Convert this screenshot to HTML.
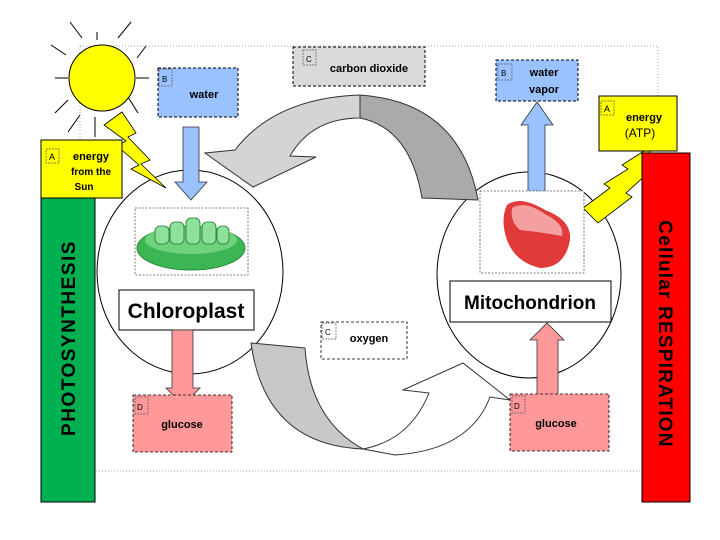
<!DOCTYPE html>
<html><head><meta charset="utf-8"><style>
html,body{margin:0;padding:0;background:#fff;}
svg{display:block;}
text{font-family:"Liberation Sans",sans-serif;}
</style></head><body>
<svg width="720" height="540" viewBox="0 0 720 540" xmlns="http://www.w3.org/2000/svg">
<path d="M80,46 H658 V96 M80,46 V140 M96,471 H642" fill="none" stroke="#9ab" stroke-width="1" stroke-dasharray="1,2"/>
<g stroke="#000" stroke-width="1">
<line x1="55" y1="78" x2="68" y2="78"/><line x1="136" y1="78" x2="149" y2="78"/>
<line x1="97" y1="32" x2="97" y2="40"/><line x1="95" y1="117" x2="95" y2="137"/>
<line x1="70" y1="22" x2="82" y2="38"/><line x1="118" y1="38" x2="131" y2="22"/>
<line x1="51" y1="45" x2="66" y2="55"/><line x1="137" y1="58" x2="146" y2="46"/>
<line x1="55" y1="113" x2="68" y2="100"/><line x1="128" y1="97" x2="138" y2="113"/>
<line x1="68" y1="132" x2="80" y2="115"/>
</g>
<circle cx="102" cy="78" r="33" fill="#ffff00" stroke="#000" stroke-width="1"/>
<ellipse cx="190" cy="272" rx="93" ry="102" fill="#fff" stroke="#000" stroke-width="1"/>
<ellipse cx="529" cy="275" rx="92" ry="103" fill="#fff" stroke="#000" stroke-width="1"/>
<path d="M360,95 Q460,102 478,200 L422,198 Q410,128 360,118 Z" fill="#aaa" stroke="#333" stroke-width="1"/>
<path d="M360,95 Q275,98 235,150 L205,153 L253,187 L316,157 L290,156 Q312,118 360,118 Z" fill="#d4d4d4" stroke="#333" stroke-width="1"/>
<path d="M395,455 Q470,450 490,397 L510,400 L463,363 L403,390 L429,393 Q410,440 363,449 Z" fill="#fff" stroke="#333" stroke-width="1"/>
<path d="M251,343 L305,348 Q310,420 363,449 Q265,445 251,343 Z" fill="#c8c8c8" stroke="#333" stroke-width="1"/>
<polygon points="104,125 122,112 136,133 128,137 150,160 141,164 166,188 131,169 139,165 117,146 126,141" fill="#ffff00" stroke="#000" stroke-width="0.8"/>
<polygon points="583,208 610,188 604,184 628,169 622,165 652,146 643,170 648,173 626,193 632,197 598,223" fill="#ffff00" stroke="#000" stroke-width="0.8"/>
<rect x="41" y="198" width="54" height="304" fill="#00b050" stroke="#000" stroke-width="1"/>
<text transform="translate(75,338) rotate(-90)" text-anchor="middle" font-size="19" font-weight="bold" letter-spacing="1.5" fill="#000">PHOTOSYNTHESIS</text>
<rect x="642" y="153" width="48" height="349" fill="#ff0000" stroke="#000" stroke-width="1"/>
<text transform="translate(659,334) rotate(90)" text-anchor="middle" font-size="19" font-weight="bold" letter-spacing="1.2" fill="#000">Cellular RESPIRATION</text>
<rect x="41" y="140" width="81" height="58" fill="#ffff00" stroke="#000" stroke-width="1"/>
<rect x="46" y="149" width="13" height="14" fill="none" stroke="#555" stroke-dasharray="2,1" stroke-width="0.7"/>
<text x="49" y="160" font-size="9">A</text>
<text x="91" y="160" font-size="11" font-weight="bold" text-anchor="middle">energy</text>
<text x="91" y="175" font-size="10" font-weight="bold" text-anchor="middle">from the</text>
<text x="84" y="190" font-size="10" font-weight="bold" text-anchor="middle">Sun</text>
<rect x="599" y="96" width="78" height="55" fill="#ffff00" stroke="#000" stroke-width="1"/>
<rect x="601" y="101" width="13" height="14" fill="none" stroke="#555" stroke-dasharray="2,1" stroke-width="0.7"/>
<text x="604" y="112" font-size="9">A</text>
<text x="644" y="121" font-size="11" font-weight="bold" text-anchor="middle">energy</text>
<text x="640" y="137" font-size="12" text-anchor="middle">(ATP)</text>
<rect x="158" y="68" width="80" height="49" fill="#99c2ff" stroke="#000" stroke-dasharray="3,2" stroke-width="1"/>
<rect x="159" y="69" width="13" height="17" fill="none" stroke="#556" stroke-dasharray="2,1" stroke-width="0.7"/>
<text x="162" y="82" font-size="8">B</text>
<text x="204" y="98" font-size="11" font-weight="bold" text-anchor="middle">water</text>
<rect x="293" y="47" width="132" height="39" fill="#d9d9d9" stroke="#000" stroke-dasharray="3,2" stroke-width="1"/>
<rect x="303" y="50" width="13" height="15" fill="none" stroke="#556" stroke-dasharray="2,1" stroke-width="0.7"/>
<text x="306" y="62" font-size="8">C</text>
<text x="369" y="72" font-size="11" font-weight="bold" text-anchor="middle">carbon dioxide</text>
<rect x="496" y="60" width="82" height="41" fill="#99c2ff" stroke="#000" stroke-dasharray="3,2" stroke-width="1"/>
<rect x="498" y="64" width="14" height="16" fill="none" stroke="#556" stroke-dasharray="2,1" stroke-width="0.7"/>
<text x="501" y="76" font-size="8">B</text>
<text x="544" y="76" font-size="11" font-weight="bold" text-anchor="middle">water</text>
<text x="544" y="93" font-size="11" font-weight="bold" text-anchor="middle">vapor</text>
<polygon points="183,127 199,127 199,182 207,182 191,200 175,182 183,182" fill="#99c2ff" stroke="#333" stroke-width="0.8"/>
<polygon points="528,192 545,192 545,125 553,125 537,102 521,125 528,125" fill="#99c2ff" stroke="#333" stroke-width="0.8"/>
<rect x="135" y="208" width="113" height="67" fill="#fff" stroke="#556" stroke-dasharray="2,1.5" stroke-width="0.8"/>
<ellipse cx="191" cy="248" rx="54" ry="22" fill="#3cb554" stroke="#2a8a3a" stroke-width="1"/>
<ellipse cx="191" cy="240" rx="46" ry="14" fill="#6fd37e"/>
<g fill="#8fe09a" stroke="#1f7a2f" stroke-width="0.8">
<rect x="155" y="226" width="14" height="18" rx="5"/><rect x="170" y="222" width="14" height="22" rx="5"/>
<rect x="186" y="218" width="14" height="26" rx="5"/><rect x="202" y="222" width="14" height="22" rx="5"/>
<rect x="217" y="226" width="12" height="18" rx="5"/>
</g>
<rect x="480" y="191" width="104" height="82" fill="#fff" stroke="#556" stroke-dasharray="2,1.5" stroke-width="0.8"/>
<path d="M507,205 Q520,195 545,210 Q572,220 570,240 Q565,268 540,268 Q515,262 507,240 Q500,220 507,205 Z" fill="#e03a3a"/>
<path d="M512,208 Q525,200 545,214 Q565,224 562,236 Q540,232 520,230 Q510,222 512,208 Z" fill="#f4a0a0"/>
<rect x="119" y="290" width="135" height="40" fill="#fff" stroke="#000" stroke-width="1"/>
<text x="186" y="318" font-size="21" font-weight="bold" text-anchor="middle">Chloroplast</text>
<rect x="450" y="281" width="161" height="41" fill="#fff" stroke="#000" stroke-width="1"/>
<text x="530" y="309" font-size="19" font-weight="bold" text-anchor="middle">Mitochondrion</text>
<polygon points="172,330 193,330 193,388 200,388 183,405 166,388 172,388" fill="#ff9999" stroke="#333" stroke-width="0.8"/>
<polygon points="537,397 558,397 558,340 564,340 547,323 530,340 537,340" fill="#ff9999" stroke="#333" stroke-width="0.8"/>
<rect x="133" y="395" width="99" height="57" fill="#ff9999" stroke="#000" stroke-dasharray="3,2" stroke-width="0.8"/>
<rect x="135" y="397" width="13" height="17" fill="none" stroke="#556" stroke-dasharray="2,1" stroke-width="0.7"/>
<text x="137" y="410" font-size="8">D</text>
<text x="182" y="428" font-size="11" font-weight="bold" text-anchor="middle">glucose</text>
<rect x="510" y="394" width="99" height="57" fill="#ff9999" stroke="#000" stroke-dasharray="3,2" stroke-width="0.8"/>
<rect x="512" y="396" width="13" height="17" fill="none" stroke="#556" stroke-dasharray="2,1" stroke-width="0.7"/>
<text x="514" y="409" font-size="8">D</text>
<text x="556" y="427" font-size="11" font-weight="bold" text-anchor="middle">glucose</text>
<rect x="321" y="322" width="86" height="37" fill="#fff" stroke="#000" stroke-dasharray="3,2" stroke-width="0.8"/>
<rect x="322" y="323" width="14" height="16" fill="none" stroke="#556" stroke-dasharray="2,1" stroke-width="0.7"/>
<text x="325" y="335" font-size="8">C</text>
<text x="369" y="342" font-size="11" font-weight="bold" text-anchor="middle">oxygen</text>
</svg>
</body></html>
